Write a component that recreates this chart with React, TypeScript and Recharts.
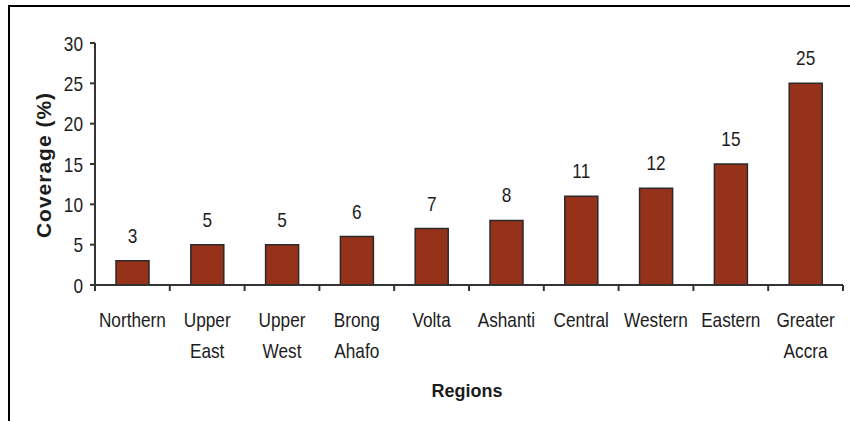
import React from 'react';
import { BarChart, Bar, XAxis, YAxis, LabelList } from 'recharts';

// Coverage (%) by region
const regions = [
  'Northern',
  'Upper East',
  'Upper West',
  'Brong Ahafo',
  'Volta',
  'Ashanti',
  'Central',
  'Western',
  'Eastern',
  'Greater Accra',
];
const coverage = [3, 5, 5, 6, 7, 8, 11, 12, 15, 25];
const yTicks = [0, 5, 10, 15, 20, 25, 30];

const data = regions.map((region, i) => ({ region, coverage: coverage[i] }));

const FONT = "'Liberation Sans', Arial, sans-serif";
const AXIS = '#333';
const TEXT = '#1c1c1c';
const SQUEEZE = 0.82;

// Horizontally condensed text, squeezed about its anchor point
const NarrowText = ({ x, y, anchor = 'middle', size = 21, dy, children }: any) => (
  <text
    x={x}
    y={y}
    dy={dy}
    textAnchor={anchor}
    transform={`matrix(${SQUEEZE} 0 0 1 ${x * (1 - SQUEEZE)} 0)`}
    fontFamily={FONT}
    fontSize={size}
    fill={TEXT}
  >
    {children}
  </text>
);

// Category tick: two-line label under the band, tick marks on the band edges
const RegionTick = (props: any) => {
  const { x, y, payload } = props;
  const index = props.index ?? payload.index;
  const half = payload.offset ?? 0;
  const lines = String(payload.value).split(' ');
  return (
    <g>
      {index === 0 && (
        <line x1={x - half} y1={y} x2={x - half} y2={y + 6} stroke={AXIS} strokeWidth={2} />
      )}
      <line x1={x + half} y1={y} x2={x + half} y2={y + 6} stroke={AXIS} strokeWidth={2} />
      {lines.map((l, i) => (
        <NarrowText key={i} x={x} y={y + 42 + i * 31}>
          {l}
        </NarrowText>
      ))}
    </g>
  );
};

const ValueTick = (props: any) => {
  const { x, y, payload } = props;
  return (
    <NarrowText x={x} y={y} dy="0.36em" anchor="end">
      {payload.value}
    </NarrowText>
  );
};

const BarValue = (props: any) => {
  const { x, y, width, value } = props;
  return (
    <NarrowText x={x + width / 2} y={y - 18}>
      {value}
    </NarrowText>
  );
};

const YTitle = (props: any) => {
  const vb = props.viewBox;
  const cx = vb.x - 12;
  const cy = vb.y + vb.height / 2 + 1;
  return (
    <text
      x={cx}
      y={cy}
      transform={`rotate(-90 ${cx} ${cy})`}
      textAnchor="middle"
      dominantBaseline="central"
      fontFamily={FONT}
      fontWeight="bold"
      fontSize={21}
      letterSpacing={1}
      fill={TEXT}
    >
      Coverage (%)
    </text>
  );
};

const XTitle = (props: any) => {
  const vb = props.viewBox;
  return (
    <text
      x={vb.x + vb.width / 2 - 2}
      y={vb.y + 112}
      textAnchor="middle"
      fontFamily={FONT}
      fontWeight="bold"
      fontSize={18}
      fill={TEXT}
    >
      Regions
    </text>
  );
};

export default function App() {
  return (
    <div
      style={{
        position: 'absolute',
        top: 5,
        left: 8,
        width: 842,
        height: 416,
        borderTop: '2px solid #000',
        borderLeft: '2px solid #000',
        boxSizing: 'border-box',
        background: '#fff',
      }}
    >
      <BarChart
        width={840}
        height={414}
        data={data}
        margin={{ top: 36, right: 7, left: 45, bottom: 16 }}
        barCategoryGap={0}
      >
        <XAxis
          dataKey="region"
          height={120}
          interval={0}
          tickSize={0}
          tickMargin={0}
          tickLine={false}
          axisLine={{ stroke: AXIS, strokeWidth: 2 }}
          tick={<RegionTick />}
          label={<XTitle />}
        />
        <YAxis
          width={40}
          domain={[0, 30]}
          ticks={yTicks}
          interval={0}
          tickSize={5}
          tickMargin={7}
          axisLine={{ stroke: AXIS, strokeWidth: 2 }}
          tickLine={{ stroke: AXIS, strokeWidth: 2 }}
          tick={<ValueTick />}
          label={<YTitle />}
        />
        <Bar
          dataKey="coverage"
          barSize={33}
          fill="#97321a"
          stroke="#2a2a2a"
          strokeWidth={1.5}
          isAnimationActive={false}
        >
          <LabelList dataKey="coverage" content={<BarValue />} />
        </Bar>
      </BarChart>
    </div>
  );
}
